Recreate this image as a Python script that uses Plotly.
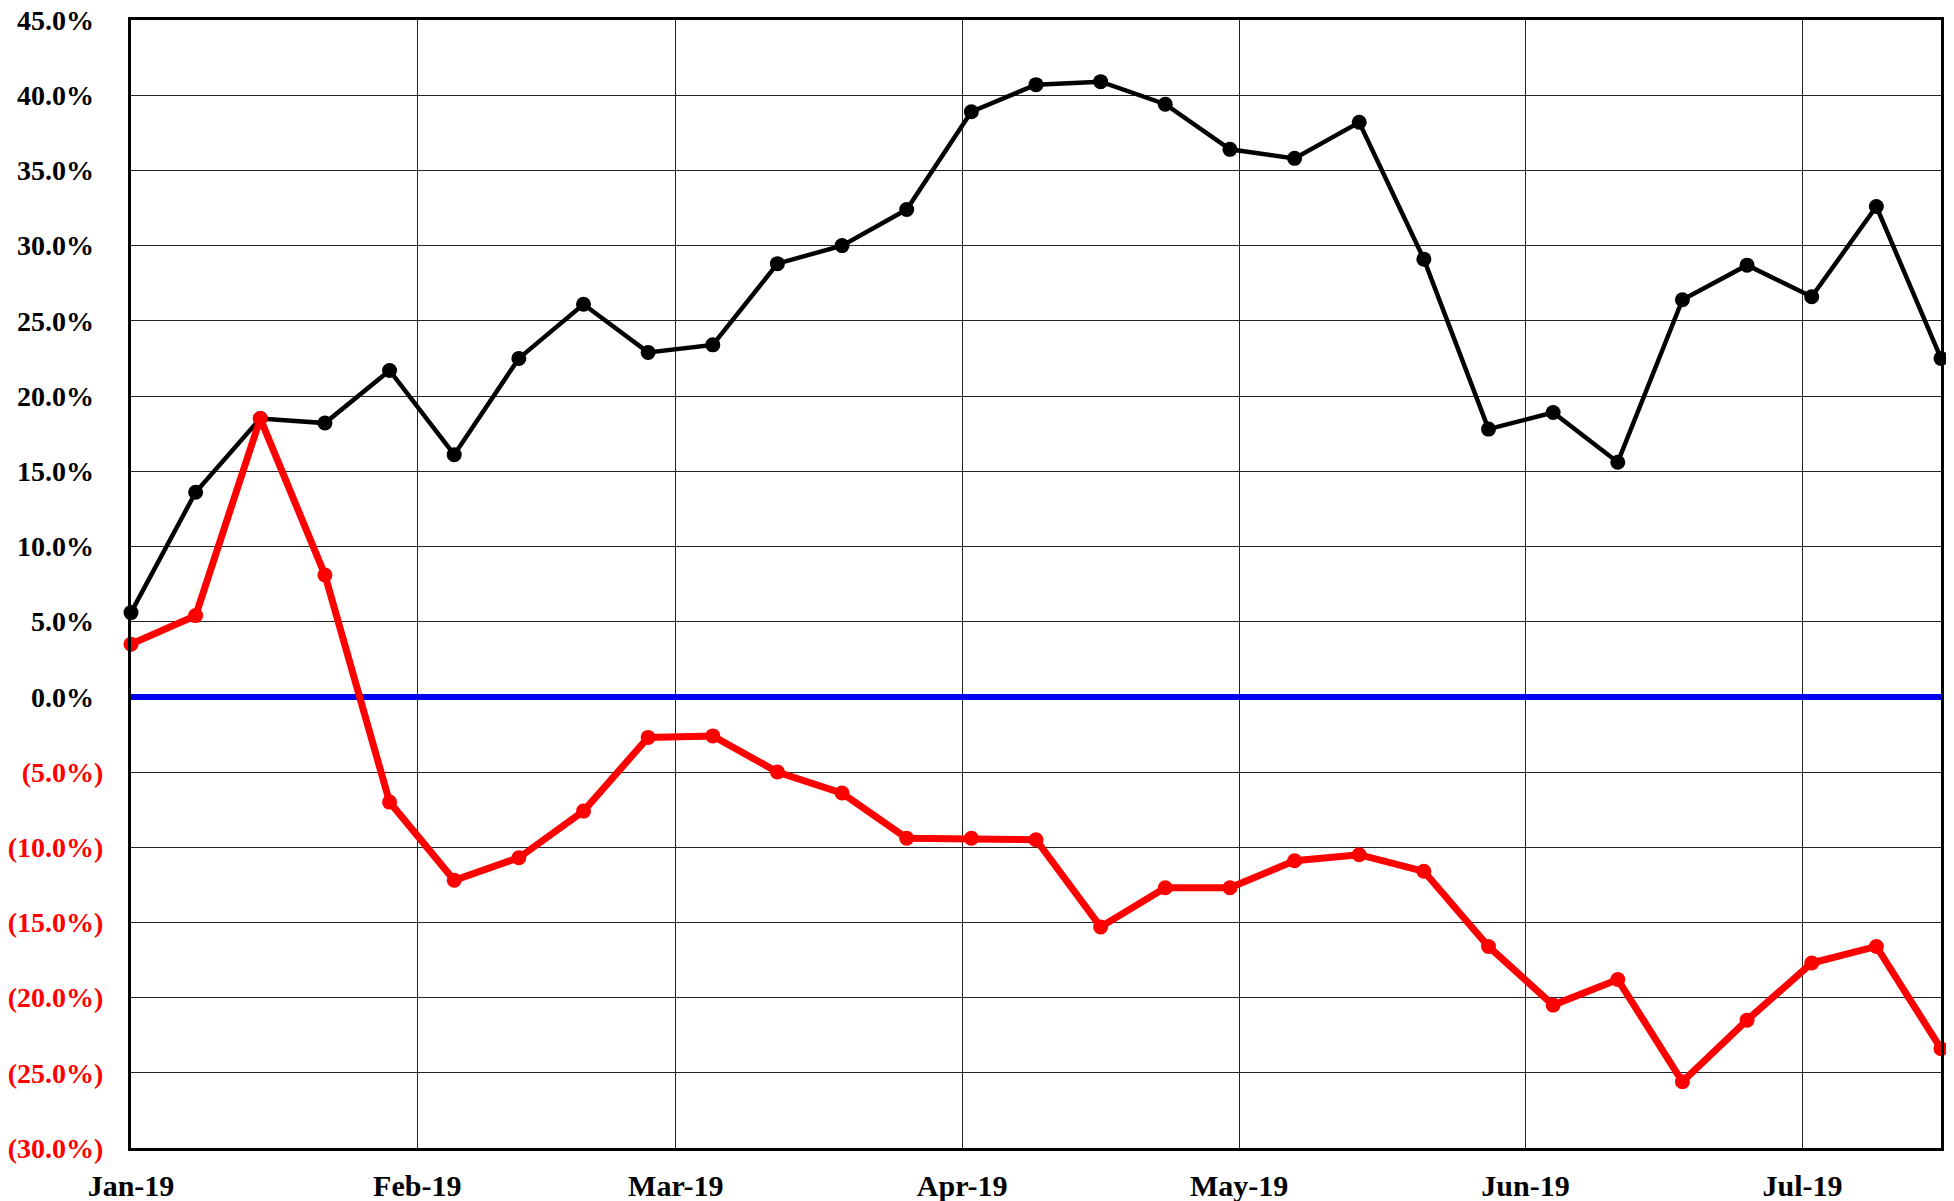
import plotly.graph_objects as go
import pandas as pd

dates = pd.date_range("2019-01-01", periods=29, freq="7D")

black_pct = [5.6, 13.6, 18.5, 18.2, 21.7, 16.1, 22.5, 26.1, 22.9, 23.4,
             28.8, 30.0, 32.4, 38.9, 40.7, 40.9, 39.4, 36.4, 35.8, 38.2,
             29.1, 17.8, 18.9, 15.6, 26.4, 28.7, 26.6, 32.6, 22.5]

red_pct = [3.5, 5.4, 18.5, 8.1, -7.0, -12.2, -10.7, -7.6, -2.7, -2.6,
           -5.0, -6.4, -9.4, -9.4, -9.5, -15.3, -12.7, -12.7, -10.9, -10.5,
           -11.6, -16.6, -20.5, -18.8, -25.6, -21.5, -17.7, -16.6, -23.4]

y_ticks = [45, 40, 35, 30, 25, 20, 15, 10, 5, 0, -5, -10, -15, -20, -25, -30]


def fmt(v):
    if v >= 0:
        return f"{v:.1f}%<span style='color:rgba(0,0,0,0)'>)</span>"
    return f"<span style='color:#ff0000'>({abs(v):.1f}%)</span>"


y_text = [fmt(v) for v in y_ticks]

fig = go.Figure()
fig.add_trace(go.Scatter(
    x=dates, y=black_pct, mode="lines+markers",
    line=dict(color="#000000", width=4.5),
    marker=dict(color="#000000", size=15),
    cliponaxis=False, showlegend=False,
))
fig.add_trace(go.Scatter(
    x=dates, y=red_pct, mode="lines+markers",
    line=dict(color="#ff0000", width=7),
    marker=dict(color="#ff0000", size=15),
    cliponaxis=False, showlegend=False,
))

font = dict(family="Liberation Serif, Times New Roman, serif", size=28, color="#000000")

# the page body has an 8px margin, so the figure is sized/offset for it
fig.update_layout(
    width=1938, height=1193,
    margin=dict(l=123, r=5, t=12, b=53, autoexpand=False),
    paper_bgcolor="white", plot_bgcolor="white",
    font=font,
    showlegend=False,
)
fig.update_xaxes(
    type="date",
    range=["2019-01-01", "2019-07-16"],
    dtick="M1", tick0="2019-01-01", tickformat="%b-%y",
    tickfont=dict(family="Liberation Serif", size=30, color="#000000", weight="bold"),
    showgrid=True, gridcolor="#222222", gridwidth=1,
    showline=True, linecolor="#000000", linewidth=3, mirror=True,
    ticks="", ticklabelstandoff=9, automargin=False, ticklabeloverflow="allow",
)
fig.update_yaxes(
    range=[-30, 45],
    tickvals=y_ticks, ticktext=y_text,
    tickfont=dict(family="Liberation Serif", size=28, color="#000000", weight="bold"),
    showgrid=True, gridcolor="#222222", gridwidth=1,
    zeroline=True, zerolinecolor="#0000ee", zerolinewidth=6,
    showline=True, linecolor="#000000", linewidth=3, mirror=True,
    ticks="", ticklabelstandoff=19, automargin=False, ticklabeloverflow="allow",
)

fig.write_html("out.html")
